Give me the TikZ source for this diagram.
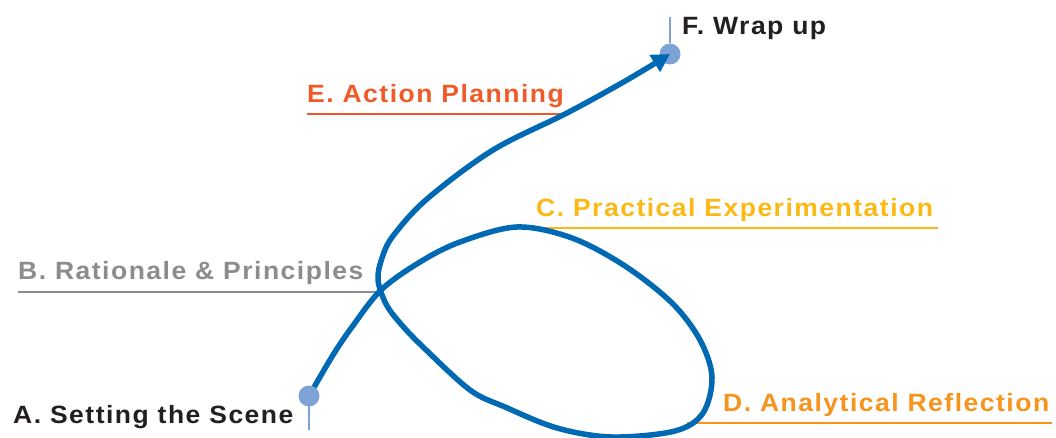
\documentclass[tikz,border=0pt]{standalone}
\usepackage{fontspec}
\newfontfamily\labfont{Liberation Sans}[LetterSpace=6, FakeStretch=1.06]
\usetikzlibrary{arrows.meta}
\definecolor{curveblue}{HTML}{0069B4}
\definecolor{dotblue}{HTML}{7DA3D6}
\definecolor{txtblack}{HTML}{231F20}
\definecolor{txtgray}{HTML}{8A8C8E}
\definecolor{txtred}{HTML}{F05A28}
\definecolor{txtyellow}{HTML}{FDB913}
\definecolor{txtorange}{HTML}{F7941E}
\begin{document}
\begin{tikzpicture}[x=1bp,y=-1bp,
  lab/.style={anchor=base west, inner sep=0pt, font=\labfont\bfseries\fontsize{25bp}{30bp}\selectfont},
  uline/.style={line width=1.6bp},
  dot/.style={circle, fill=dotblue, inner sep=0pt, minimum size=21bp},
  stem/.style={draw=dotblue, line width=1.5bp},
  curve/.style={draw=curveblue, line width=5.5bp, -{Triangle[length=18bp,width=19bp]}}]
\useasboundingbox (0,0) rectangle (1056,438);
% labels
\node[lab, text=txtblack] (tA) at (13,423) {A. Setting the Scene};
\node[lab, text=txtgray] (tB) at (18,280) {B. Rationale \& Principles};
\node[lab, text=txtyellow] (tC) at (536,217) {C. Practical Experimentation};
\node[lab, text=txtorange] (tD) at (723,412) {D. Analytical Reflection};
\node[lab, text=txtred] (tE) at (307,103) {E. Action Planning};
\node[lab, text=txtblack] (tF) at (682,35) {F. Wrap up};
% underlines
\coordinate (uB1) at (18,292); \coordinate (uB2) at (378,292);
\coordinate (uC1) at (540,228); \coordinate (uC2) at (938,228);
\coordinate (uD1) at (687,423); \coordinate (uD2) at (1052,423);
\coordinate (uE1) at (307,114); \coordinate (uE2) at (567,114);
\draw[uline, txtgray] (uB1) -- (uB2);
\draw[uline, txtyellow] (uC1) -- (uC2);
\draw[uline, txtorange] (uD1) -- (uD2);
\draw[uline, txtred] (uE1) -- (uE2);
% stems and F dot
\coordinate (sA) at (309,430);
\coordinate (sF) at (670,17);
\node[dot] (dF) at (670,54) {};
\draw[stem] (dF) -- (sF);
% main curve
\path[curve] plot[smooth, tension=0.55] coordinates {
 (309,396) (333,355) (352,327) (381,290) (420,262) (460,242) (517,227)
 (572,238) (625,266) (672,303) (700,340) (712,377) (703,413) (675,431)
 (612,437) (557,428) (505,407) (470,390) (423,347) (400,323) (386,304)
 (378,280) (382,258) (393,236) (427,199) (493,150) (567,113) (627,80) (dF.center)};
% A dot
\draw[stem] (309,396) -- (sA);
\node[dot] (dA) at (309,396) {};
\end{tikzpicture}
\end{document}
